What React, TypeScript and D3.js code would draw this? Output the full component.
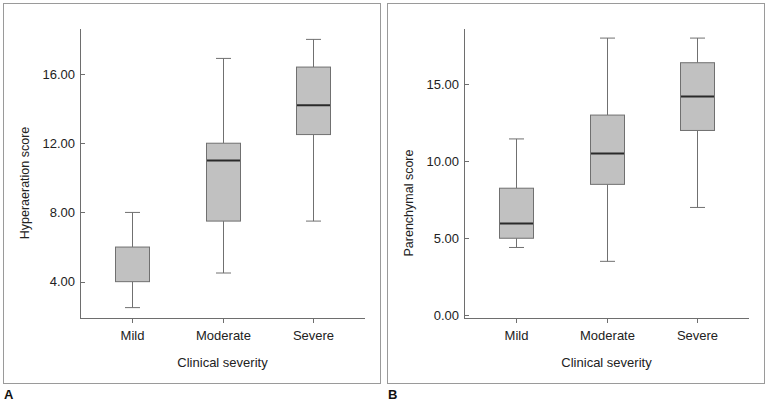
import React from "react";
import * as d3 from "d3";

const categories = ["Mild", "Moderate", "Severe"];

const hyperMin = [2.5, 4.5, 7.5];
const hyperQ1 = [4.0, 7.5, 12.5];
const hyperMedian = [4.0, 11.0, 14.2];
const hyperQ3 = [6.0, 12.0, 16.4];
const hyperMax = [8.0, 16.9, 18.0];
const hyperTicks = [4, 8, 12, 16];

const parMin = [4.4, 3.5, 7.0];
const parQ1 = [5.0, 8.5, 12.0];
const parMedian = [5.95, 10.5, 14.2];
const parQ3 = [8.25, 13.0, 16.4];
const parMax = [11.45, 18.0, 18.0];
const parTicks = [0, 5, 10, 15];

const FONT = "'Liberation Sans', Arial, sans-serif";
const AXIS = "#6e6e6e";
const BOXSTROKE = "#707070";
const BOXFILL = "#c1c1c1";

type PanelProps = {
  ox: number;
  letter: string;
  yLabel: string;
  yDomain: [number, number];
  ticks: number[];
  mins: number[];
  q1: number[];
  med: number[];
  q3: number[];
  maxs: number[];
  yLabelY: number;
};

function Panel(p: PanelProps) {
  const left = p.ox + 80;
  const right = p.ox + 365;
  const top = 29;
  const bottom = 318;
  const y = d3.scaleLinear().domain(p.yDomain).range([bottom, top]);
  const x = d3.scalePoint<string>().domain(categories).range([left, right]).padding(0.57);
  const boxW = 34;
  const capW = 15;
  return (
    <g>
      <rect x={p.ox + 3.5} y={3.5} width={377} height={380} fill="none" stroke="#9a9a9a" strokeWidth={1} />
      <text x={p.ox + 4} y={399} fontFamily={FONT} fontWeight="bold" fontSize={13} fill="#111">{p.letter}</text>
      <line x1={left + 0.5} x2={left + 0.5} y1={top} y2={bottom} stroke={AXIS} />
      <line x1={left} x2={right} y1={bottom + 0.5} y2={bottom + 0.5} stroke={AXIS} />
      {p.ticks.map((t) => (
        <g key={t}>
          <line x1={left} x2={left + 5} y1={Math.round(y(t)) + 0.5} y2={Math.round(y(t)) + 0.5} stroke={AXIS} />
          <text x={left - 5} y={y(t)} dy="0.35em" textAnchor="end" fontFamily={FONT} fontSize={13} fill="#222">
            {d3.format(".2f")(t)}
          </text>
        </g>
      ))}
      {categories.map((c, i) => {
        const cx = Math.round(x(c) as number) + 0.5;
        return (
          <g key={c}>
            <line x1={cx} x2={cx} y1={bottom} y2={bottom + 5} stroke={AXIS} />
            <text x={cx} y={340} textAnchor="middle" fontFamily={FONT} fontSize={13} fill="#222">{c}</text>
            <line x1={cx} x2={cx} y1={y(p.maxs[i])} y2={y(p.q3[i])} stroke={BOXSTROKE} />
            <line x1={cx} x2={cx} y1={y(p.q1[i])} y2={y(p.mins[i])} stroke={BOXSTROKE} />
            <line x1={cx - capW / 2} x2={cx + capW / 2} y1={y(p.maxs[i])} y2={y(p.maxs[i])} stroke={BOXSTROKE} />
            <line x1={cx - capW / 2} x2={cx + capW / 2} y1={y(p.mins[i])} y2={y(p.mins[i])} stroke={BOXSTROKE} />
            <rect x={cx - boxW / 2} y={y(p.q3[i])} width={boxW} height={y(p.q1[i]) - y(p.q3[i])} fill={BOXFILL} stroke="none" />
            {p.med[i] > p.q1[i] && (
              <line x1={cx - boxW / 2} x2={cx + boxW / 2} y1={y(p.med[i])} y2={y(p.med[i])} stroke="#2a2a2a" strokeWidth={2} />
            )}
            <rect x={cx - boxW / 2} y={y(p.q3[i])} width={boxW} height={y(p.q1[i]) - y(p.q3[i])} fill="none" stroke={BOXSTROKE} />
          </g>
        );
      })}
      <text x={(left + right) / 2} y={367} textAnchor="middle" fontFamily={FONT} fontSize={13} fill="#222">Clinical severity</text>
      <text
        transform={`translate(${p.ox + 25},${p.yLabelY}) rotate(-90)`}
        textAnchor="middle"
        dominantBaseline="central"
        fontFamily={FONT}
        fontSize={12.5}
        fill="#222"
      >
        {p.yLabel}
      </text>
    </g>
  );
}

export default function App() {
  return (
    <div style={{ position: "fixed", left: 0, top: 0, width: 768, height: 411, background: "#fff" }}>
      <svg width={768} height={411} style={{ display: "block" }}>
        <rect width={768} height={411} fill="#fff" />
        <Panel
          ox={0}
          letter="A"
          yLabel="Hyperaeration score"
          yDomain={[1.9, 18.6]}
          ticks={hyperTicks}
          mins={hyperMin}
          q1={hyperQ1}
          med={hyperMedian}
          q3={hyperQ3}
          maxs={hyperMax}
          yLabelY={183}
        />
        <Panel
          ox={384}
          letter="B"
          yLabel="Parenchymal score"
          yDomain={[-0.18, 18.59]}
          ticks={parTicks}
          mins={parMin}
          q1={parQ1}
          med={parMedian}
          q3={parQ3}
          maxs={parMax}
          yLabelY={203}
        />
      </svg>
    </div>
  );
}
